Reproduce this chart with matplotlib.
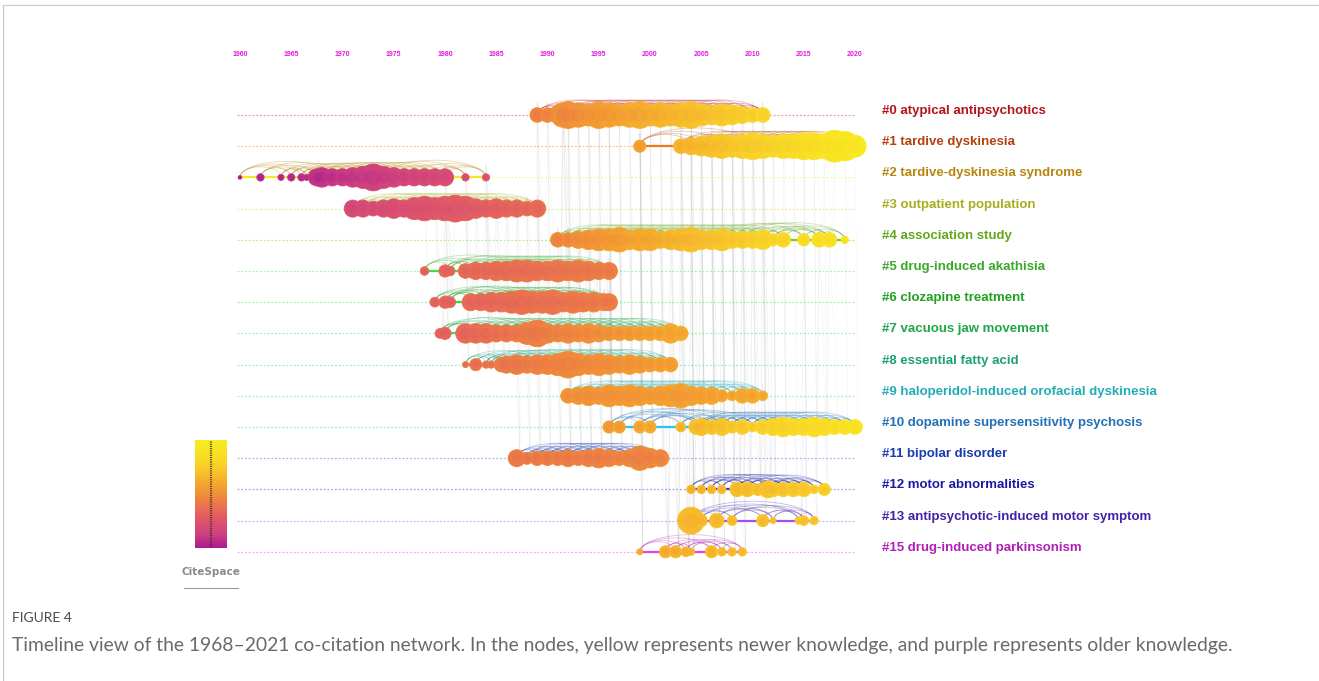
""" Timeline view of the co-citation network (CiteSpace style) """
import matplotlib
matplotlib.use("Agg")
import matplotlib.pyplot as plt
import numpy as np
from matplotlib.collections import LineCollection
from matplotlib.colors import LinearSegmentedColormap
from matplotlib.lines import Line2D

W, H = 1319, 681

# cluster labels, in display order
cluster_ids = ['#0', '#1', '#2', '#3', '#4', '#5', '#6', '#7', '#8', '#9',
               '#10', '#11', '#12', '#13', '#15']
cluster_names = ['atypical antipsychotics', 'tardive dyskinesia',
                 'tardive-dyskinesia syndrome', 'outpatient population',
                 'association study', 'drug-induced akathisia',
                 'clozapine treatment', 'vacuous jaw movement',
                 'essential fatty acid',
                 'haloperidol-induced orofacial dyskinesia',
                 'dopamine supersensitivity psychosis', 'bipolar disorder',
                 'motor abnormalities', 'antipsychotic-induced motor symptom',
                 'drug-induced parkinsonism']
label_colors = ['#b3141c', '#b4420e', '#b8860f', '#a6ae1e', '#62a81a',
                '#3aa82a', '#22a022', '#20a64a', '#1f9f7a', '#22adb6',
                '#2270b6', '#1a3cb0', '#1a1aa6', '#4222a8', '#b020b6']
path_colors = ['#e02020', '#f07a18', '#f2ea22', '#cfe030', '#70d020',
               '#40e040', '#30e030', '#30e060', '#30d0a0', '#20d0e8',
               '#20c8f0', '#3060e0', '#3030e0', '#a050f0', '#e040f0']

# node publication years and diameters (px) per cluster
node_years = [
    [1989, 1990, 1991.5, 1992, 1993, 1994, 1995, 1996, 1997, 1998, 1999, 2000,
     2001, 2002, 2003, 2004, 2005, 2006, 2007, 2008, 2009, 2010, 2011],
    [1999, 2003, 2004, 2005, 2006, 2007, 2008, 2009, 2010, 2011, 2012, 2013,
     2014, 2015, 2016, 2017, 2018, 2019, 2020],
    [1960, 1962, 1964, 1965, 1966, 1966.5, 1967.5, 1968, 1969, 1970, 1971,
     1972, 1973, 1974, 1975, 1976, 1977, 1978, 1979, 1980, 1982, 1984],
    [1971, 1972, 1973, 1974, 1975, 1976, 1977, 1978, 1979, 1980, 1981, 1982,
     1983, 1984, 1985, 1986, 1987, 1988, 1989],
    [1991, 1992, 1993, 1994, 1995, 1996, 1997, 1998, 1999, 2000, 2001, 2002,
     2003, 2004, 2005, 2006, 2007, 2008, 2009, 2010, 2011, 2012, 2013, 2015,
     2016.5, 2017.5, 2019],
    [1978, 1980, 1980.5, 1982, 1983, 1984, 1985, 1986, 1987, 1988, 1989,
     1990, 1991, 1992, 1993, 1994, 1995, 1996],
    [1979, 1980, 1980.5, 1982.5, 1983.5, 1984.5, 1985.5, 1986.5, 1987.5,
     1988.5, 1989.5, 1990.5, 1991.5, 1992.5, 1993.5, 1994.5, 1995.5, 1996],
    [1979.5, 1980, 1982, 1983, 1984, 1985, 1986, 1987, 1988, 1989, 1990,
     1991, 1992, 1993, 1994, 1995, 1996, 1997, 1998, 1999, 2000, 2001, 2002,
     2003],
    [1982, 1983, 1984, 1984.5, 1985.5, 1986, 1987, 1988, 1989, 1990, 1991,
     1992, 1993, 1994, 1995, 1996, 1997, 1998, 1999, 2000, 2001, 2002],
    [1992, 1993, 1994, 1995, 1996, 1997, 1998, 1999, 2000, 2001, 2002, 2003,
     2004, 2005, 2006, 2007, 2008, 2009, 2010, 2011],
    [1996, 1997, 1999, 2000, 2003, 2004.5, 2005, 2006, 2007, 2008, 2009,
     2010, 2011, 2012, 2013, 2014, 2015, 2016, 2017, 2018, 2019, 2020],
    [1987, 1988, 1989, 1990, 1991, 1992, 1993, 1994, 1995, 1996, 1997, 1998,
     1999, 2000, 2001],
    [2004, 2005, 2006, 2007, 2008.5, 2009.5, 2010.5, 2011.5, 2012, 2013,
     2014, 2015, 2016, 2017],
    [2004, 2005, 2006.5, 2008, 2011, 2012, 2014.5, 2015, 2016],
    [1999, 2001.5, 2002.5, 2003.5, 2004, 2006, 2007, 2008, 2009],
]
node_sizes = [
    [12, 12, 20, 22, 20, 18, 22, 20, 18, 20, 22, 18, 20, 18, 20, 22, 18, 16,
     18, 16, 14, 12, 12],
    [10, 12, 14, 16, 18, 20, 18, 20, 22, 20, 18, 20, 20, 22, 22, 20, 26, 24,
     18],
    [3, 6, 5, 6, 6, 5, 14, 16, 14, 14, 16, 18, 22, 18, 16, 14, 14, 14, 14,
     14, 6, 6],
    [14, 14, 12, 14, 16, 14, 18, 20, 18, 20, 22, 20, 16, 14, 16, 14, 14, 12,
     14],
    [12, 12, 14, 16, 18, 18, 20, 16, 18, 18, 14, 16, 18, 20, 16, 16, 18, 14,
     14, 14, 16, 10, 12, 10, 12, 12, 6],
    [7, 10, 8, 12, 14, 14, 16, 16, 18, 18, 16, 16, 18, 16, 18, 16, 14, 14],
    [8, 10, 9, 14, 14, 16, 16, 18, 20, 18, 18, 20, 16, 18, 16, 16, 14, 14],
    [8, 10, 16, 16, 16, 14, 14, 14, 18, 22, 16, 14, 16, 14, 16, 14, 12, 12,
     12, 12, 12, 12, 16, 12],
    [5, 10, 6, 6, 12, 14, 16, 14, 16, 16, 18, 22, 18, 16, 18, 16, 14, 16, 14,
     12, 12, 12],
    [12, 14, 16, 14, 18, 16, 18, 16, 14, 16, 18, 20, 16, 14, 14, 10, 8, 12,
     12, 8],
    [10, 10, 10, 10, 8, 12, 14, 12, 14, 10, 12, 8, 12, 14, 16, 14, 14, 16, 14,
     12, 12, 12],
    [14, 10, 12, 12, 12, 14, 12, 14, 16, 14, 12, 14, 20, 16, 14],
    [7, 7, 7, 7, 12, 12, 10, 14, 12, 12, 12, 12, 7, 10],
    [22, 10, 12, 8, 10, 5, 6, 8, 7],
    [5, 10, 10, 8, 6, 10, 7, 7, 7],
]
# citation-time colour range (first node, last node) per cluster
color_years = [(1992, 2010), (1998, 2018), (1968, 1981), (1978, 1987),
               (1993, 2016), (1985, 1991), (1985, 1991), (1985, 2000),
               (1988, 1998), (1995, 2000), (1997, 2016), (1990, 1993),
               (2002, 2008), (2003, 2006), (2000, 2004)]

axis_years = [1960, 1965, 1970, 1975, 1980, 1985, 1990, 1995, 2000, 2005,
              2010, 2015, 2020]

# colour scale: purple (old) -> yellow (new)
c_stops = [1968, 1975, 1982, 1988, 1993, 1998, 2004, 2010, 2018, 2021]
c_cols = ['#ab1c92', '#cf427f', '#df566a', '#e97050', '#ef883c', '#f4a030',
          '#f7bd2c', '#f8d628', '#f8e820', '#f8ec20']
cmap = LinearSegmentedColormap.from_list(
    'cite', [((s - 1968) / 53, c) for s, c in zip(c_stops, c_cols)])


def ycol(y):
    return cmap(np.clip((y - 1968) / 53, 0, 1))


fig = plt.figure(figsize=(W / 100, H / 100), dpi=100)
ax = fig.add_axes([180 / W, 1 - 570 / H, 690 / W, 530 / H])
ax.set_xlim(1954.15, 2021.46)
ax.set_ylim(14.583, -2.404)
ax.axis('off')

# faint citation links between clusters (nodes of the same year)
links = []
for a in range(len(node_years)):
    for b in range(a + 1, len(node_years)):
        for ya in node_years[a]:
            for yb in node_years[b]:
                if abs(ya - yb) < 0.6:
                    links.append([(ya, a - 0.4), (yb + 0.3, b)])
ax.add_collection(LineCollection(links, colors='#909090', linewidths=0.4,
                                 alpha=0.07, zorder=1))

t = np.linspace(0, np.pi, 30)
for k, yrs in enumerate(node_years):
    row = k
    # guide line
    ax.plot([1959.7, 2020.0], [row, row], color=path_colors[k], lw=0.9,
            ls=(0, (1.5, 1.5)), alpha=0.45, zorder=2)
    # arcs within the cluster
    arcs = []
    n = len(yrs)
    for i in range(n):
        for step in (2, 3, 5, 8):
            j = i + step
            if j < n:
                x0, x1 = yrs[i], yrs[j]
                h = min(0.66, 0.2 + 0.035 * (x1 - x0))
                xs = x0 + (x1 - x0) * (1 - np.cos(t)) / 2
                ys = row - h * np.sin(t)
                arcs.append(np.column_stack([xs, ys]))
    ax.add_collection(LineCollection(arcs, colors=label_colors[k],
                                     linewidths=0.6, alpha=0.3, zorder=3))
    # path along the row
    ax.plot([yrs[0], yrs[-1]], [row, row], color=path_colors[k], lw=1.6,
            zorder=4)
    # nodes
    c0, c1 = color_years[k]
    cy = [c0 + (y - yrs[0]) / (yrs[-1] - yrs[0]) * (c1 - c0) for y in yrs]
    d = np.array(node_sizes[k], dtype=float) * 1.22
    ax.scatter(yrs, [row] * n, s=(d * 0.72) ** 2, c=[ycol(v) for v in cy],
               edgecolors=[ycol(v + 2) for v in cy], linewidths=0.6,
               zorder=5, clip_on=False)
    ax.scatter(yrs, [row] * n, s=(d * 0.72 * 0.55) ** 2,
               c=[ycol(v - 4) for v in cy], alpha=0.35, linewidths=0,
               zorder=6, clip_on=False)
    ax.text(2022.6, row - 0.13, f'{cluster_ids[k]} {cluster_names[k]}',
            color=label_colors[k], fontsize=9.5, fontweight='bold',
            family='Liberation Sans', va='center', ha='left')

for yr in axis_years:
    ax.text(yr, -1.955, str(yr), color='#e01ee0', fontsize=5,
            fontweight='bold', ha='center', va='center',
            family='Liberation Sans')

# colour legend
cax = fig.add_axes([195 / W, 1 - 548 / H, 32 / W, 108 / H])
cax.imshow(np.linspace(0, 1, 256)[:, None], aspect='auto', cmap=cmap,
           origin='lower', extent=[0, 1, 0, 1])
cax.plot([0.5, 0.5], [0.01, 0.99], color='#3a2a2a', lw=1.6,
         ls=(0, (0.5, 0.5)), alpha=0.8)
cax.axis('off')

fig.text(211 / W, 1 - 572 / H, 'CiteSpace', color='#8a8a8a', fontsize=7.5,
         fontweight='bold', ha='center', va='center', family='DejaVu Sans')
fig.add_artist(Line2D([184 / W, 238 / W], [1 - 588 / H, 1 - 588 / H],
                      color='#9a9a9a', lw=0.8))

# caption
fig.text(12 / W, 1 - 618 / H, 'FIGURE 4', color='#4a4a4a', fontsize=10,
         family='Lato', va='center', ha='left')
fig.text(12 / W, 1 - 646 / H,
         'Timeline view of the 1968\u20132021 co-citation network. In the '
         'nodes, yellow represents newer knowledge, and purple represents '
         'older knowledge.', color='#6a6a6a', fontsize=13.9, family='Lato',
         va='center', ha='left')

# frame
fig.add_artist(Line2D([3 / W, 3 / W], [0, 1 - 5 / H], color='#c8c8c8', lw=0.8))
fig.add_artist(Line2D([3 / W, 1], [1 - 5 / H, 1 - 5 / H], color='#c8c8c8',
                      lw=0.8))

fig.savefig('out.png', dpi=100, facecolor='white')
